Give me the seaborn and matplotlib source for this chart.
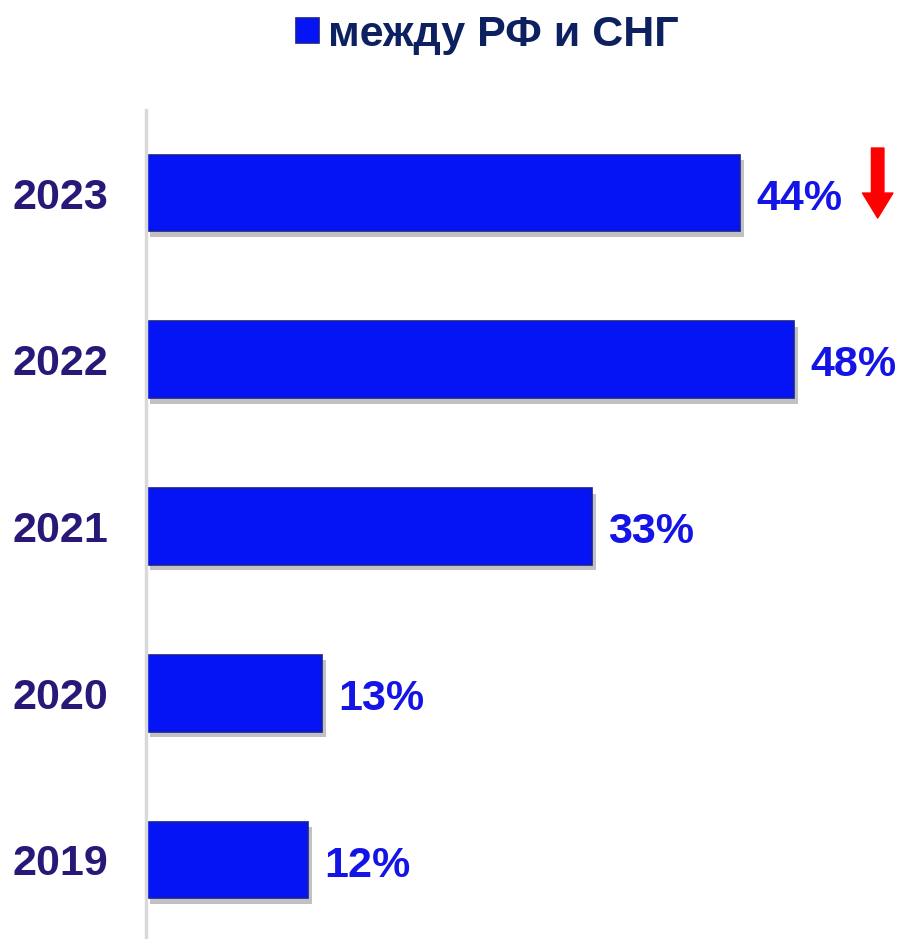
import pandas as pd
import matplotlib
matplotlib.use("Agg")
import matplotlib.pyplot as plt
import matplotlib.patheffects as pe
from matplotlib.patches import Patch
import seaborn as sns

# данные с графика
years = ['2023', '2022', '2021', '2020', '2019']
shares = [44, 48, 33, 13, 12]
series_name = 'между РФ и СНГ'

df = pd.DataFrame({'Год': years, 'Доля': shares})

sns.set_style("white")
plt.rcParams['font.family'] = ['Liberation Sans', 'DejaVu Sans']

fig = plt.figure(figsize=(9.07, 9.39), dpi=100)
ax = fig.add_axes([146 / 907, 0.0, 1 - 146 / 907, 829 / 939])

bar_color = '#0514f5'
ax = sns.barplot(data=df, x='Доля', y='Год', order=years, orient='h',
                 color=bar_color, width=0.46, saturation=1, ax=ax,
                 edgecolor='#1a1f9a', linewidth=1.2)

# тень под столбиками
for p in ax.patches:
    p.set_path_effects([pe.SimplePatchShadow(offset=(3, -4), shadow_rgbFace='#777777', alpha=0.45),
                        pe.Normal()])

ax.set_xlim(0, (907 - 146) / 13.5)
ax.set_ylim(4.474, -0.498)

# подписи значений
for i, v in enumerate(shares):
    ax.annotate(f'{v}%', (v, i), xytext=(12, -4), textcoords='offset points',
                ha='left', va='center', fontsize=31, fontweight='bold', color='#1414e6')

# красная стрелка вниз у 2023
ax.annotate('', xy=(54.2, 0.15), xytext=(54.2, -0.27),
            arrowprops=dict(facecolor='#ff0000', edgecolor='#ff0000',
                            width=9, headwidth=22, headlength=18, shrink=0))

ax.set_xlabel('')
ax.set_ylabel('')
ax.set_xticks([])
ax.tick_params(axis='y', length=0, pad=27)
for lbl in ax.get_yticklabels():
    lbl.set_fontsize(31)
    lbl.set_fontweight('bold')
    lbl.set_color('#2a1878')

for s in ['top', 'right', 'bottom']:
    ax.spines[s].set_visible(False)
ax.spines['left'].set_color('#d9d9d9')
ax.spines['left'].set_linewidth(2.5)

# легенда сверху
handle = Patch(facecolor=bar_color, edgecolor='#1a1f9a', linewidth=1.2)
leg = fig.legend([handle], [series_name], loc='center', bbox_to_anchor=(0.537, 0.963),
                 frameon=False, handlelength=0.55, handleheight=0.55, handletextpad=0.2,
                 prop={'size': 31, 'weight': 'bold'})
for t in leg.get_texts():
    t.set_color('#0d2160')

plt.savefig('out.png', dpi=100)
